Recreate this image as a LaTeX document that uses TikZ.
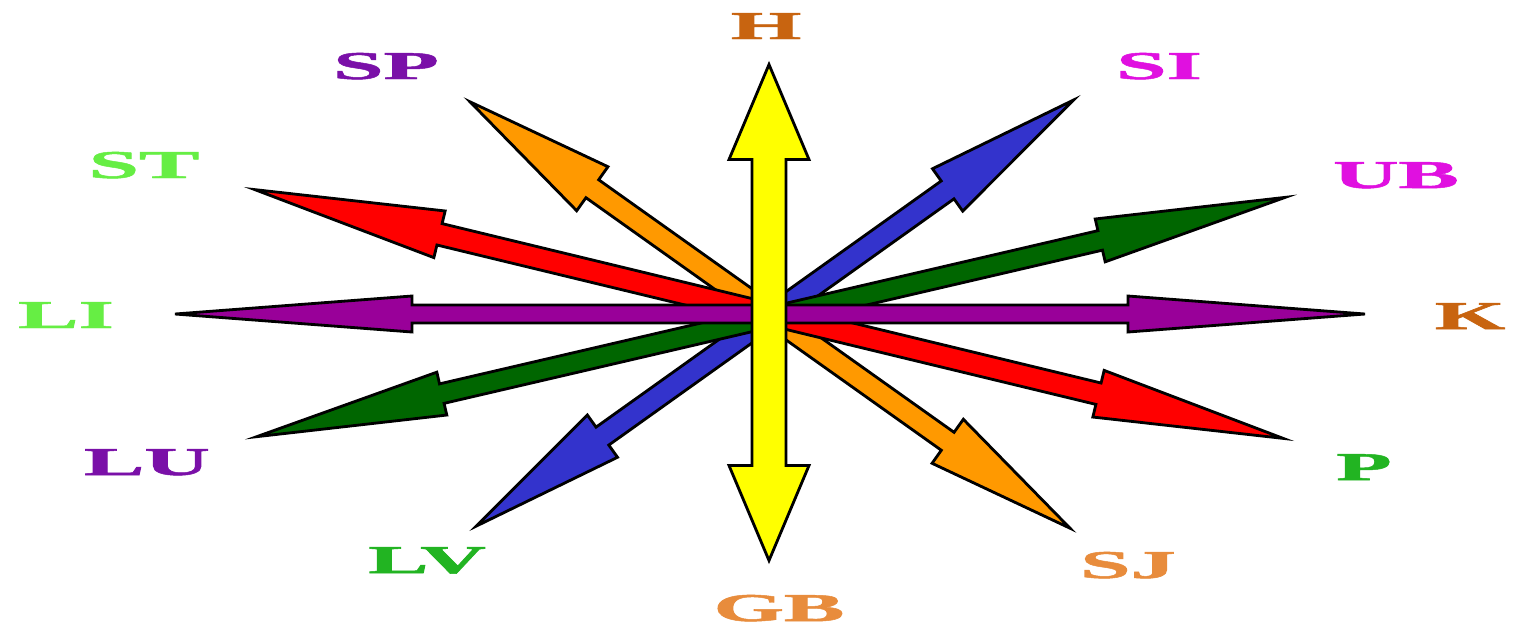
\documentclass[tikz,border=0pt]{standalone}
\usepackage{fontspec}
\setmainfont{Liberation Serif}
\newfontfamily\labfont{Liberation Serif}[BoldFeatures={FakeBold=1.2}]
\definecolor{cYellow}{HTML}{FFFF00}
\definecolor{cPurple}{HTML}{990099}
\definecolor{cRed}{HTML}{FF0000}
\definecolor{cOrange}{HTML}{FF9900}
\definecolor{cBlue}{HTML}{3333CC}
\definecolor{cGreen}{HTML}{006600}
\definecolor{tBrown}{HTML}{C86410}
\definecolor{tViolet}{HTML}{7A10A8}
\definecolor{tMagenta}{HTML}{E010E0}
\definecolor{tLime}{HTML}{66EE44}
\definecolor{tGreen}{HTML}{22B422}
\definecolor{tOrange}{HTML}{E88C3C}
% \dblarrow{cx}{cy}{angle}{half length}{head length}{body half width}{head half width}{colour}
\newcommand\dblarrow[8]{%
  \begin{scope}[shift={(#1,#2)},rotate=#3]
    \filldraw[arrowshape,fill=#8]
      (#4,0) -- ({#4-#5},#7) -- ({#4-#5},#6) -- ({-#4+#5},#6) -- ({-#4+#5},#7)
      -- (-#4,0) -- ({-#4+#5},-#7) -- ({-#4+#5},-#6) -- ({#4-#5},-#6) -- ({#4-#5},-#7) -- cycle;
  \end{scope}}
\tikzset{
  arrowshape/.style={draw=black,line width=0.8pt,line join=miter},
  lab/.style={anchor=base,inner sep=0pt,font=\labfont\fontsize{11.2}{13}\selectfont\bfseries,xscale=2.3}
}
\begin{document}
\begin{tikzpicture}[x=0.01cm,y=0.01cm]
\useasboundingbox (0,0) rectangle (1516,626);
\fill[white] (0,0) rectangle (1516,626);
% arrows (y-up pixel coordinates)
\dblarrow{775}{313}{35.5}{367}{155}{11}{26}{cBlue}
\dblarrow{771}{309}{13.1}{528}{190}{10}{22}{cGreen}
\dblarrow{770}{311}{-35.4}{368}{150}{11}{27}{cOrange}
\dblarrow{769}{312}{-13.6}{529}{190}{11}{24}{cRed}
\dblarrow{770}{312}{0}{595}{237}{9}{18}{cPurple}
\dblarrow{769}{313.5}{90}{248}{95}{17}{40}{cYellow}
% labels
\node[lab,text=tBrown]   (H)  at (766,587) {H};
\node[lab,text=tViolet]  (SP) at (386,547) {SP};
\node[lab,text=tMagenta] (SI) at (1159,547) {SI};
\node[lab,text=tMagenta] (UB) at (1396,438) {UB};
\node[lab,text=tLime]    (ST) at (144,448) {ST};
\node[lab,text=tLime]    (LI) at (66,298) {LI};
\node[lab,text=tBrown]   (K)  at (1470,297) {K};
\node[lab,text=tViolet]  (LU) at (147,151) {LU};
\node[lab,text=tGreen]   (P)  at (1364,146) {P};
\node[lab,text=tGreen]   (LV) at (427,53) {LV};
\node[lab,text=tOrange]  (SJ) at (1128,48) {SJ};
\node[lab,text=tOrange]  (GB) at (779,5) {GB};
\end{tikzpicture}
\end{document}
